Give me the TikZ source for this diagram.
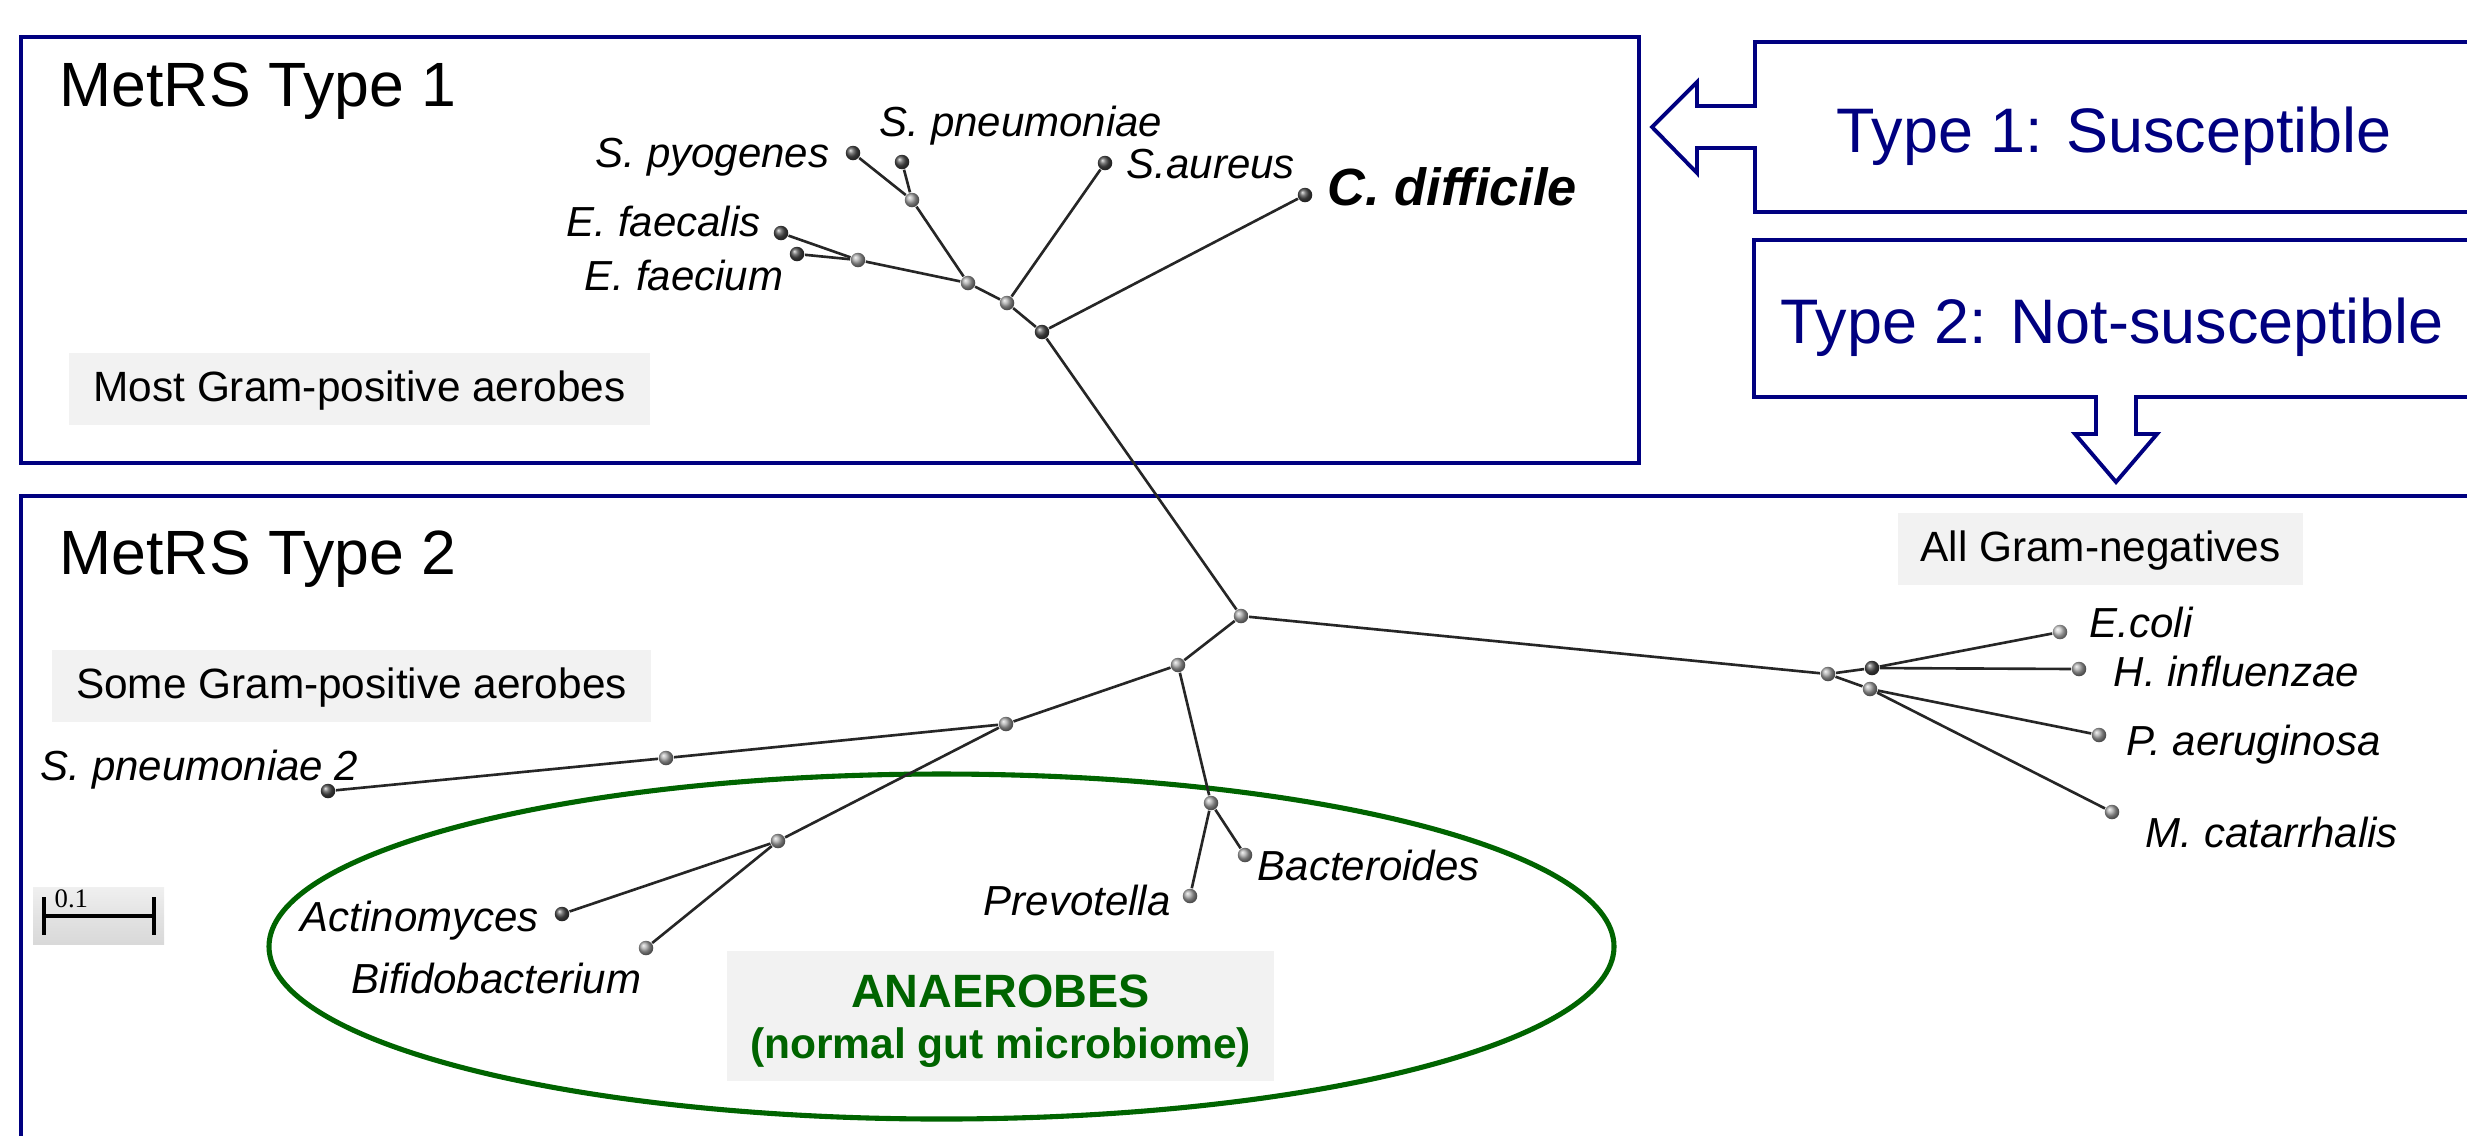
\documentclass[tikz,border=0pt]{standalone}
\usepackage{fontspec}
\setmainfont{Liberation Sans}
\newfontfamily\numserif{Liberation Serif}
\definecolor{navyb}{HTML}{000080}
\definecolor{gdark}{HTML}{006400}
\definecolor{lgray}{HTML}{F2F2F2}
\begin{document}
\begin{tikzpicture}[x=0.1mm,y=-0.1mm,
  dotleaf/.style={circle,inner sep=0pt,minimum size=1.45mm,ball color=black!70},
  dotin/.style={circle,inner sep=0pt,minimum size=1.45mm,ball color=gray!70},
  branch/.style={line width=0.75pt,draw=black!85},
  sp/.style={anchor=base west,inner sep=0pt,font=\fontsize{11.95}{14}\selectfont\itshape},
  frame/.style={draw=navyb,line width=1.3pt},
  callout/.style={draw=navyb,line width=1.1pt},
  title/.style={anchor=base west,inner sep=0pt,font=\fontsize{17.8}{20}\selectfont},
  typetext/.style={anchor=base west,inner sep=0pt,text=navyb,font=\fontsize{17.9}{20}\selectfont},
  glabel/.style={fill=lgray,inner sep=0pt,font=\fontsize{12.05}{14}\selectfont,text height=0.716em,text depth=0pt,minimum height=7.2mm}
]
\useasboundingbox (0,0) rectangle (2467,1135);
\clip (0,0) rectangle (2467,1135);

% frames
\draw[frame] (21,37) rectangle (1639,463);
\draw[frame] (21,1150) -- (21,496) -- (2480,496);

% callouts
\draw[callout,line join=miter] (2480,42) -- (1755,42) -- (1755,106) -- (1697,106) -- (1697,82) -- (1652,127)
  -- (1697,173) -- (1697,148) -- (1755,148) -- (1755,212) -- (2480,212);
\draw[callout,line join=miter] (2480,240) -- (1754,240) -- (1754,397) -- (2096,397) -- (2096,434) -- (2075,434)
  -- (2116,482) -- (2157,434) -- (2136,434) -- (2136,397) -- (2480,397);
\node[typetext] (t1) at (1836,152) {Type 1: Susceptible};
\node[typetext] (t2) at (1780,343) {Type 2: Not-susceptible};

% titles
\node[title] (m1) at (59,106) {MetRS Type 1};
\node[title] (m2) at (59,574) {MetRS Type 2};

% gray labels
\node[glabel,minimum width=58.1mm] (most) at (359.5,389) {Most Gram-positive aerobes};
\node[glabel,minimum width=59.9mm] (some) at (351.5,685.5) {Some Gram-positive aerobes};
\node[glabel,minimum width=40.5mm] (allneg) at (2100.5,548.5) {All Gram-negatives};

% anaerobes
\draw[gdark,line width=1.45pt] (941.5,946.5) ellipse [x radius=67.25mm, y radius=17.25mm];
\node[fill=lgray,inner sep=0pt,minimum width=54.7mm,minimum height=13mm] (anabox) at (1000.5,1016) {};
\node[anchor=base,inner sep=0pt,text=gdark,font=\fontsize{13.3}{15}\selectfont\bfseries] (ana) at (1000.5,1007) {ANAEROBES};
\node[anchor=base,inner sep=0pt,text=gdark,font=\fontsize{12.1}{14}\selectfont\bfseries] (gut) at (1000.5,1058) {(normal gut microbiome)};

% scale bar
\node[inner sep=0pt,minimum width=13.1mm,minimum height=5.7mm,top color=gray!12,bottom color=gray!30,middle color=gray!22] (sbar) at (98.5,915.5) {};
\coordinate (sbl) at (44,916);
\coordinate (sbr) at (154,916);
\draw[line width=1.1pt] (44,897) -- (44,935) (154,897) -- (154,935);
\draw[line width=1.1pt] (sbl) -- (sbr);
\node[anchor=base west,inner sep=0pt,font=\numserif\fontsize{7.6}{9}\selectfont] (sbt) at (54,907) {0.1};

% ---- top tree ----
\node[dotleaf] (spy) at (853,153) {};
\node[dotleaf] (spn) at (902,162) {};
\node[dotin] (a) at (912,200) {};
\node[dotleaf] (efs) at (781,233) {};
\node[dotleaf] (efm) at (797,254) {};
\node[dotin] (b) at (858,260) {};
\node[dotin] (c) at (968,283) {};
\node[dotin] (d) at (1007,303) {};
\node[dotleaf] (sau) at (1105,163) {};
\node[dotleaf] (e) at (1042,332) {};
\node[dotleaf] (cdf) at (1305,195) {};
% ---- bottom tree ----
\node[dotin] (root) at (1241,616) {};
\node[dotin] (g) at (1178,665) {};
\node[dotin] (h) at (1006,724) {};
\node[dotin] (i) at (666,758) {};
\node[dotleaf] (sp2) at (328,791) {};
\node[dotin] (j) at (778,841) {};
\node[dotleaf] (act) at (562,914) {};
\node[dotin] (bif) at (646,948) {};
\node[dotin] (k) at (1211,803) {};
\node[dotin] (prv) at (1190,896) {};
\node[dotin] (bac) at (1245,855) {};
\node[dotin] (m) at (1828,674) {};
\node[dotleaf] (n) at (1872,668) {};
\node[dotin] (o) at (1870,689) {};
\node[dotin,ball color=gray!45] (eco) at (2060,632) {};
\node[dotin] (hin) at (2079,669) {};
\node[dotin] (pae) at (2099,735) {};
\node[dotin] (mca) at (2112,812) {};

% edges
\draw[branch] (spy) -- (a);
\draw[branch] (spn) -- (a);
\draw[branch] (a) -- (c);
\draw[branch] (efs) -- (b);
\draw[branch] (efm) -- (b);
\draw[branch] (b) -- (c);
\draw[branch] (c) -- (d);
\draw[branch] (sau) -- (d);
\draw[branch] (d) -- (e);
\draw[branch] (cdf) -- (e);
\draw[branch] (e) -- (root);
\draw[branch] (root) -- (g);
\draw[branch] (root) -- (m);
\draw[branch] (g) -- (h);
\draw[branch] (g) -- (k);
\draw[branch] (h) -- (i);
\draw[branch] (i) -- (sp2);
\draw[branch] (h) -- (j);
\draw[branch] (j) -- (act);
\draw[branch] (j) -- (bif);
\draw[branch] (k) -- (prv);
\draw[branch] (k) -- (bac);
\draw[branch] (m) -- (n);
\draw[branch] (m) -- (o);
\draw[branch] (n) -- (eco);
\draw[branch] (n) -- (hin);
\draw[branch] (o) -- (pae);
\draw[branch] (o) -- (mca);

% species labels
\node[sp] (lspy) at (595,167) {S. pyogenes};
\node[sp] (lspn) at (879,136) {S. pneumoniae};
\node[sp] (lsau) at (1126,178) {S.aureus};
\node[sp,font=\fontsize{14.9}{17}\selectfont\bfseries\itshape] (lcdf) at (1327,205) {C. difficile};
\node[sp] (lefs) at (566,236) {E. faecalis};
\node[sp] (lefm) at (584,290) {E. faecium};
\node[sp] (lsp2) at (40,780) {S. pneumoniae 2};
\node[sp] (lact) at (300,931) {Actinomyces};
\node[sp] (lbif) at (351,993) {Bifidobacterium};
\node[sp] (lprv) at (983,915) {Prevotella};
\node[sp] (lbac) at (1257,880) {Bacteroides};
\node[sp] (leco) at (2089,637) {E.coli};
\node[sp] (lhin) at (2113,686) {H. influenzae};
\node[sp] (lpae) at (2126,755) {P. aeruginosa};
\node[sp] (lmca) at (2145,847) {M. catarrhalis};
\end{tikzpicture}
\end{document}
